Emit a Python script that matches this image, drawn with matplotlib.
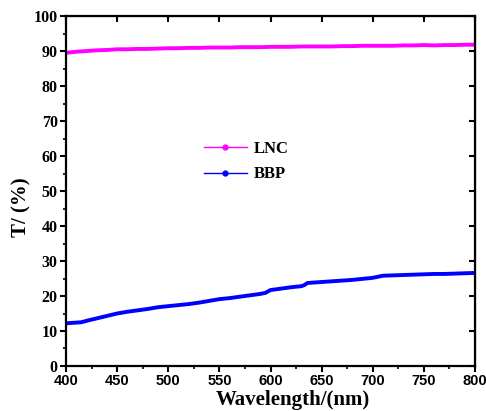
import numpy as np
import matplotlib.pyplot as plt
from matplotlib.lines import Line2D
from matplotlib.ticker import MultipleLocator

# LNC transmittance
lnc_x = [400, 410, 420, 430, 440, 450, 460, 470, 480, 490, 500, 510, 520, 530, 540, 550,
         560, 570, 580, 590, 600, 610, 620, 630, 640, 650, 660, 670, 680, 690, 700, 710,
         720, 730, 740, 750, 760, 770, 780, 790, 800]
lnc_y = [89.5, 89.8, 90.0, 90.2, 90.3, 90.5, 90.5, 90.6, 90.6, 90.7, 90.8, 90.8, 90.9, 90.9,
         91.0, 91.0, 91.0, 91.1, 91.1, 91.1, 91.2, 91.2, 91.2, 91.3, 91.3, 91.3, 91.3, 91.4,
         91.4, 91.5, 91.5, 91.5, 91.5, 91.6, 91.6, 91.7, 91.6, 91.7, 91.7, 91.8, 91.8]

# BBP transmittance
bbp_x = [400, 410, 415, 420, 430, 440, 450, 460, 470, 480, 490, 500, 510, 520, 530, 540,
         550, 560, 570, 580, 590, 595, 600, 610, 620, 630, 633, 636, 640, 650, 660, 670,
         680, 690, 700, 705, 710, 720, 730, 740, 750, 760, 770, 780, 790, 800]
bbp_y = [12.2, 12.4, 12.5, 12.9, 13.6, 14.3, 15.0, 15.5, 15.9, 16.3, 16.8, 17.1, 17.4, 17.7,
         18.1, 18.6, 19.1, 19.4, 19.8, 20.2, 20.6, 20.9, 21.7, 22.1, 22.5, 22.8, 23.1, 23.7,
         23.8, 24.0, 24.2, 24.4, 24.6, 24.9, 25.2, 25.5, 25.8, 25.9, 26.0, 26.1, 26.2, 26.3,
         26.3, 26.4, 26.5, 26.6]

serif = 'Liberation Serif'
sans = 'Liberation Sans'

fig = plt.figure(figsize=(4.86, 4.11), dpi=100)
ax = fig.add_axes([0.1358, 0.1095, 0.8416, 0.8515])

ax.plot(lnc_x, lnc_y, color='#ff00ff', lw=2.8, solid_capstyle='butt')
ax.plot(bbp_x, bbp_y, color='#0000ff', lw=2.8, solid_capstyle='butt')

ax.set_xlim(400, 800)
ax.set_ylim(0, 100)
ax.xaxis.set_major_locator(MultipleLocator(50))
ax.xaxis.set_minor_locator(MultipleLocator(25))
ax.yaxis.set_major_locator(MultipleLocator(10))
ax.yaxis.set_minor_locator(MultipleLocator(5))

for s in ax.spines.values():
    s.set_linewidth(1.6)
ax.tick_params(which='major', direction='out', length=4, width=1.5, pad=2)
ax.tick_params(which='minor', direction='out', length=2.5, width=1.2)

# inward ticks on top and right without labels
sec_x = ax.secondary_xaxis('top')
sec_x.xaxis.set_major_locator(MultipleLocator(50))
sec_x.tick_params(direction='in', length=4, width=1.5, labeltop=False)
sec_y = ax.secondary_yaxis('right')
sec_y.yaxis.set_major_locator(MultipleLocator(10))
sec_y.tick_params(direction='in', length=4, width=1.5, labelright=False)

for lab in ax.get_xticklabels():
    lab.set_fontfamily(sans)
    lab.set_fontweight('bold')
    lab.set_fontsize(10.5)
for lab in ax.get_yticklabels():
    lab.set_fontfamily(serif)
    lab.set_fontweight('bold')
    lab.set_fontsize(11.5)

ax.set_xlabel('Wavelength/(nm)', fontfamily=serif, fontweight='bold', fontsize=15)
ax.set_ylabel('T/ (%)', fontfamily=serif, fontweight='bold', fontsize=15)
ax.xaxis.set_label_coords(0.555, -0.07, transform=ax.transAxes)
ax.xaxis.label.set_va('top')
ax.yaxis.set_label_coords(-0.085, 0.454, transform=ax.transAxes)

handles = [Line2D([], [], color='#ff00ff', lw=1, marker='o', ms=3.5),
           Line2D([], [], color='#0000ff', lw=1, marker='o', ms=3.5)]
ax.legend(handles, ['LNC', 'BBP'], loc='upper left', bbox_to_anchor=(0.30, 0.685),
          frameon=False, handlelength=2.6, handletextpad=0.4, labelspacing=0.55,
          prop={'family': serif, 'weight': 'bold', 'size': 12})

fig.savefig('out.png', dpi=100)
